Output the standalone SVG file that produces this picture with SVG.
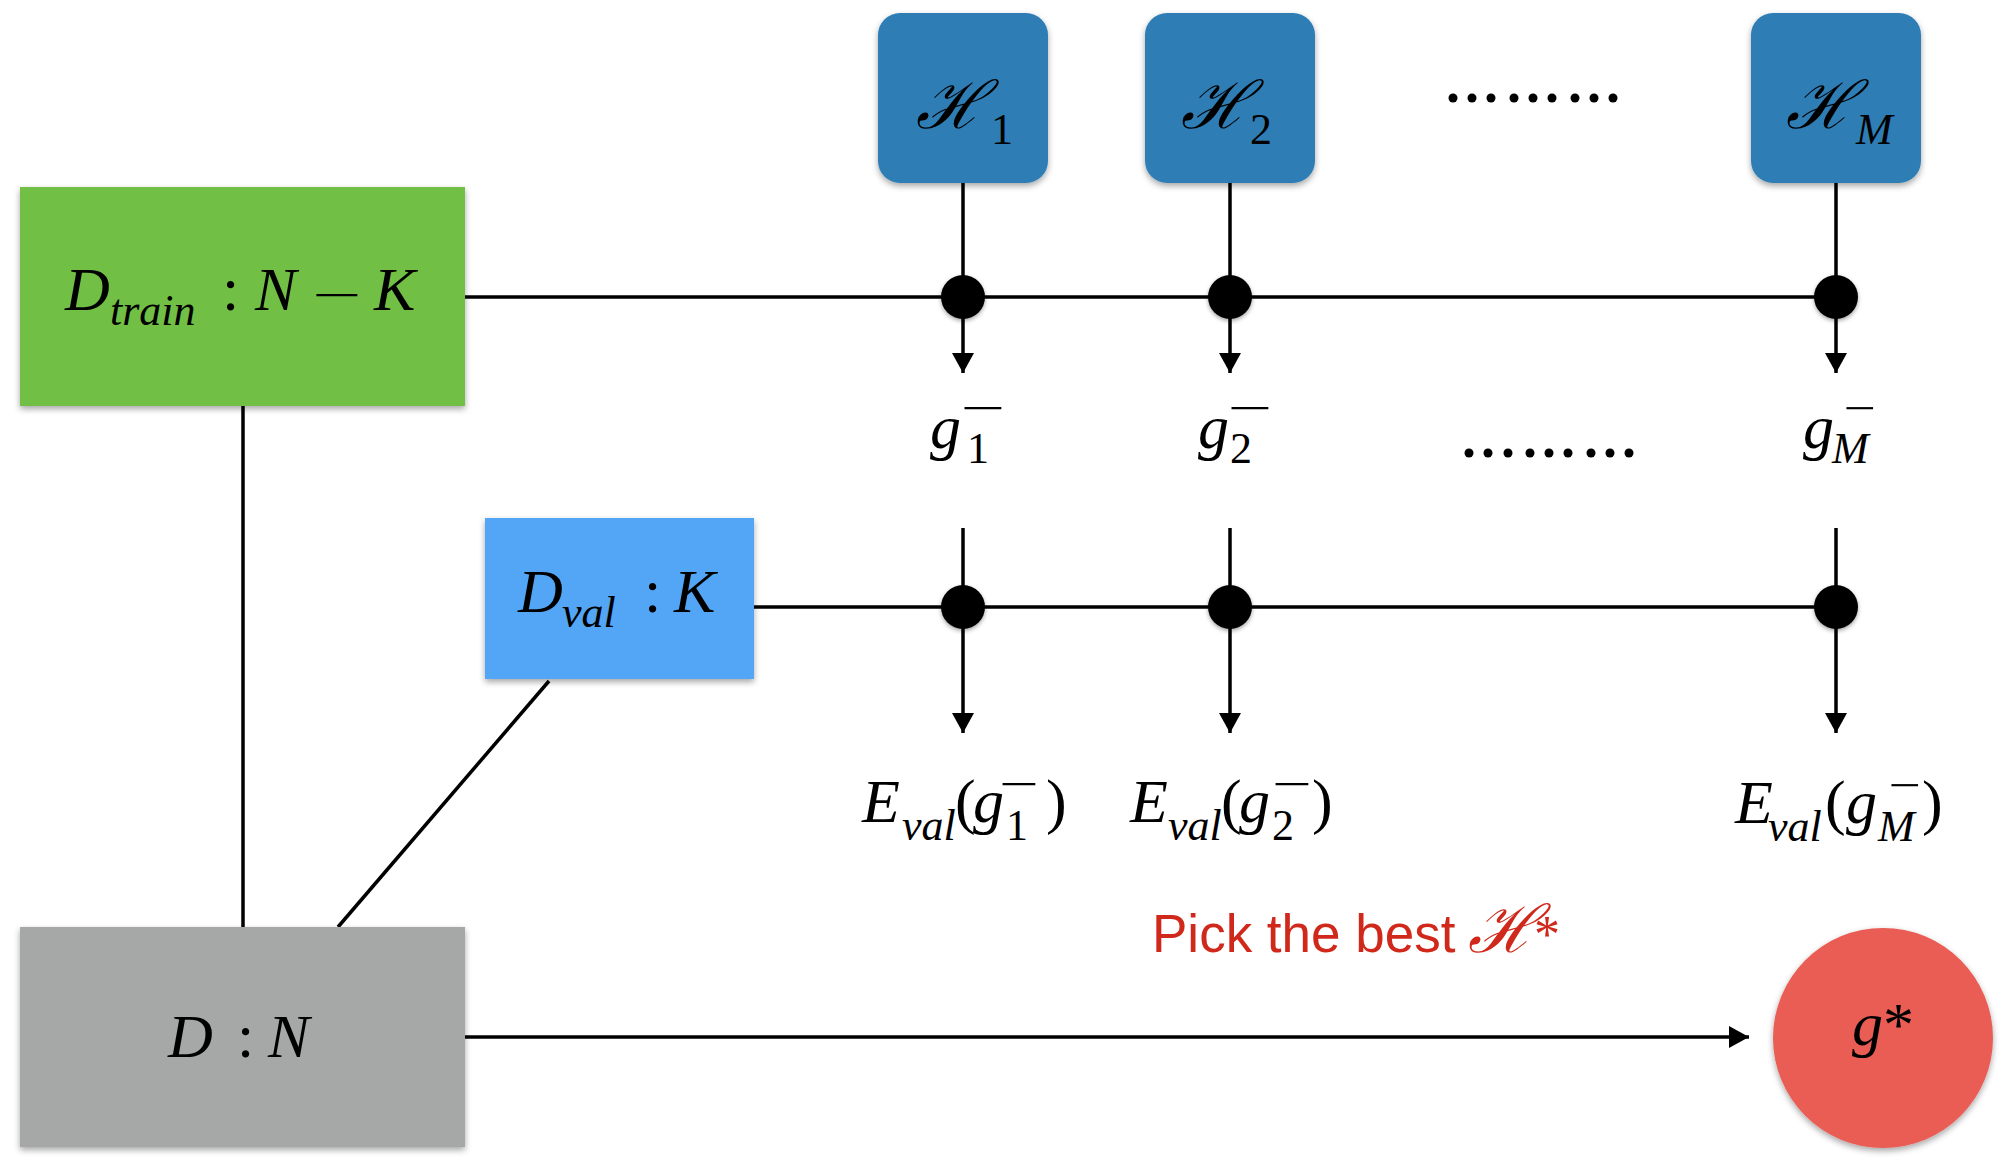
<svg xmlns="http://www.w3.org/2000/svg" width="2000" height="1172" viewBox="0 0 2000 1172">
<defs>
<filter id="sh" x="-10%" y="-10%" width="120%" height="125%">
<feDropShadow dx="0" dy="3" stdDeviation="3" flood-color="#000" flood-opacity="0.35"/>
</filter>
<filter id="dsh" x="-30%" y="-30%" width="160%" height="160%">
<feDropShadow dx="0" dy="2" stdDeviation="2" flood-color="#000" flood-opacity="0.35"/>
</filter>
<marker id="ah" markerUnits="userSpaceOnUse" markerWidth="22" markerHeight="22" refX="20" refY="11" orient="auto">
<path d="M0,0 L20,11 L0,22 z" fill="#000"/>
</marker>
</defs>
<style>
.ln{stroke:#000;stroke-width:3.5;fill:none}
.m{font-family:"Liberation Serif","Times New Roman",serif;font-style:italic;font-size:62px;fill:#000}
.s{font-size:44px}
.r{font-style:normal}
.scr{font-family:"DejaVu Serif","Liberation Serif",serif;font-style:italic;font-size:66px}
.bar{font-family:"Liberation Serif","Times New Roman",serif;font-size:44px;fill:#000;text-anchor:middle}
.hb{fill:#2e7db5}
.dot{fill:#000;filter:url(#dsh)}
.pd{fill:#000}
</style>
<rect width="2000" height="1172" fill="#fff"/>

<g id="connectors">
<line class="ln" x1="465" y1="297" x2="1836" y2="297"/>
<line class="ln" x1="754" y1="607" x2="1836" y2="607"/>
<line class="ln" x1="963" y1="183" x2="963" y2="373" marker-end="url(#ah)"/>
<line class="ln" x1="1230" y1="183" x2="1230" y2="373" marker-end="url(#ah)"/>
<line class="ln" x1="1836" y1="183" x2="1836" y2="373" marker-end="url(#ah)"/>
<line class="ln" x1="963" y1="528" x2="963" y2="733" marker-end="url(#ah)"/>
<line class="ln" x1="1230" y1="528" x2="1230" y2="733" marker-end="url(#ah)"/>
<line class="ln" x1="1836" y1="528" x2="1836" y2="733" marker-end="url(#ah)"/>
<line class="ln" x1="243" y1="406" x2="243" y2="927"/>
<line class="ln" x1="549" y1="681" x2="338" y2="927"/>
<line class="ln" x1="465" y1="1037" x2="1749" y2="1037" marker-end="url(#ah)"/>
<circle class="dot" cx="963" cy="297" r="22"/>
<circle class="dot" cx="1230" cy="297" r="22"/>
<circle class="dot" cx="1836" cy="297" r="22"/>
<circle class="dot" cx="963" cy="607" r="22"/>
<circle class="dot" cx="1230" cy="607" r="22"/>
<circle class="dot" cx="1836" cy="607" r="22"/>
</g>

<g id="H1">
<rect class="hb" x="878" y="13" width="170" height="170" rx="22" filter="url(#sh)"/>
<text class="m"><tspan class="scr" x="916" y="128">ℋ</tspan><tspan class="s r" x="991" y="144">1</tspan></text>
</g>
<g id="H2">
<rect class="hb" x="1145" y="13" width="170" height="170" rx="22" filter="url(#sh)"/>
<text class="m"><tspan class="scr" x="1181" y="128">ℋ</tspan><tspan class="s r" x="1250" y="144">2</tspan></text>
</g>
<g id="HM">
<rect class="hb" x="1751" y="13" width="170" height="170" rx="22" filter="url(#sh)"/>
<text class="m"><tspan class="scr" x="1786" y="128">ℋ</tspan><tspan class="s" x="1856" y="144">M</tspan></text>
</g>

<g id="dots-top">
<circle class="pd" cx="1453" cy="98" r="4.5"/><circle class="pd" cx="1472" cy="98" r="4.5"/><circle class="pd" cx="1491" cy="98" r="4.5"/>
<circle class="pd" cx="1514" cy="98" r="4.5"/><circle class="pd" cx="1533" cy="98" r="4.5"/><circle class="pd" cx="1552" cy="98" r="4.5"/>
<circle class="pd" cx="1575" cy="98" r="4.5"/><circle class="pd" cx="1594" cy="98" r="4.5"/><circle class="pd" cx="1613" cy="98" r="4.5"/>
</g>
<g id="dots-mid">
<circle class="pd" cx="1469" cy="453" r="4.5"/><circle class="pd" cx="1488" cy="453" r="4.5"/><circle class="pd" cx="1508" cy="453" r="4.5"/>
<circle class="pd" cx="1530" cy="453" r="4.5"/><circle class="pd" cx="1549" cy="453" r="4.5"/><circle class="pd" cx="1568" cy="453" r="4.5"/>
<circle class="pd" cx="1591" cy="453" r="4.5"/><circle class="pd" cx="1610" cy="453" r="4.5"/><circle class="pd" cx="1629" cy="453" r="4.5"/>
</g>

<g id="Dtrain">
<rect x="20" y="187" width="445" height="219" fill="#71bf44" filter="url(#sh)"/>
<text class="m"><tspan x="65" y="310">D</tspan><tspan class="s" x="110" y="325">train</tspan><tspan class="r" x="222" y="310">:</tspan><tspan x="255" y="310">N</tspan><tspan x="374" y="310">K</tspan></text>
<text class="bar" font-size="62" transform="translate(337,310) scale(2,1)">−</text>
</g>

<g id="Dval">
<rect x="485" y="518" width="269" height="161" fill="#52a5f5" filter="url(#sh)"/>
<text class="m"><tspan x="518" y="612">D</tspan><tspan class="s" x="562" y="627">val</tspan><tspan class="r" x="644" y="612">:</tspan><tspan x="674" y="612">K</tspan></text>
</g>

<g id="D">
<rect x="20" y="927" width="445" height="220" fill="#a5a8a7" filter="url(#sh)"/>
<text class="m"><tspan x="168" y="1057">D</tspan><tspan class="r" x="237" y="1057">:</tspan><tspan x="268" y="1057">N</tspan></text>
</g>

<g id="g1">
<text class="m"><tspan x="930" y="448">g</tspan><tspan class="s r" x="967" y="463">1</tspan></text>
<text class="bar" transform="translate(983,423) scale(1.8,1)">−</text>
</g>
<g id="g2">
<text class="m"><tspan x="1198" y="448">g</tspan><tspan class="s r" x="1230" y="463">2</tspan></text>
<text class="bar" transform="translate(1250,423) scale(1.8,1)">−</text>
</g>
<g id="gM">
<text class="m"><tspan x="1803" y="448">g</tspan><tspan class="s" x="1832" y="463">M</tspan></text>
<text class="bar" transform="translate(1860,423) scale(1.3,1)">−</text>
</g>

<g id="E1">
<text class="m"><tspan x="862" y="822">E</tspan><tspan class="s" x="902" y="840">val</tspan><tspan class="r" x="955" y="822">(</tspan><tspan x="973" y="822">g</tspan><tspan class="s r" x="1006" y="840">1</tspan><tspan class="r" x="1046" y="822">)</tspan></text>
<text class="bar" transform="translate(1019,799) scale(1.6,1)">−</text>
</g>
<g id="E2">
<text class="m"><tspan x="1130" y="822">E</tspan><tspan class="s" x="1168" y="840">val</tspan><tspan class="r" x="1221" y="822">(</tspan><tspan x="1239" y="822">g</tspan><tspan class="s r" x="1272" y="840">2</tspan><tspan class="r" x="1312" y="822">)</tspan></text>
<text class="bar" transform="translate(1292,799) scale(1.6,1)">−</text>
</g>
<g id="EM">
<text class="m"><tspan x="1735" y="823">E</tspan><tspan class="s" x="1768" y="841">val</tspan><tspan class="r" x="1825" y="823">(</tspan><tspan x="1846" y="823">g</tspan><tspan class="s" x="1878" y="841">M</tspan><tspan class="r" x="1922" y="823">)</tspan></text>
<text class="bar" transform="translate(1905,800) scale(1.3,1)">−</text>
</g>

<g id="pick">
<text x="1152" y="952" font-family="'Liberation Sans',Arial,sans-serif" font-size="53" fill="#d0281b">Pick the best <tspan class="scr" x="1468" y="952" font-family="'DejaVu Serif',serif" font-size="56">ℋ</tspan><tspan x="1534" y="952" font-family="'Liberation Serif',serif" font-size="52">*</tspan></text>
</g>

<g id="gstar">
<circle cx="1883" cy="1038" r="110" fill="#e95d55" filter="url(#sh)"/>
<text class="m" x="1852" y="1045">g<tspan class="r">*</tspan></text>
</g>
</svg>
